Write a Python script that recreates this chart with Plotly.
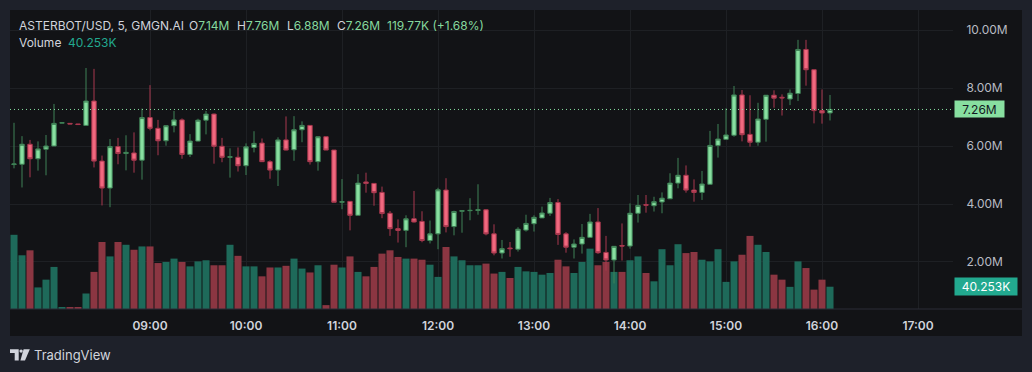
import plotly.graph_objects as go
import pandas as pd

# ---------------- data (prices in millions, volume in thousands) ----------------
start_time = "2025-10-20 07:35"
interval = "5min"

opens = [5.36, 5.37, 6.06, 5.56, 5.89, 6.00, 6.79, 6.78, 6.76, 6.71,
         7.55, 5.48, 4.55, 5.98, 5.74, 5.76, 5.51, 6.98, 6.61, 6.18,
         6.70, 6.90, 5.71, 6.17, 6.89, 7.10, 5.99, 5.61, 5.61, 5.32,
         5.95, 6.10, 5.46, 5.17, 6.21, 5.87, 6.56, 6.71, 5.46, 6.32,
         5.86, 4.06, 4.09, 3.61, 4.76, 4.71, 4.40, 3.68, 3.15, 3.09,
         3.49, 3.40, 2.74, 2.97, 4.48, 3.22, 3.75, 3.77, 3.78, 3.80,
         2.97, 2.31, 2.48, 2.44, 3.10, 3.32, 3.52, 3.68, 4.05, 2.97,
         2.51, 2.62, 2.85, 3.38, 2.33, 2.07, 2.57, 2.55, 3.68, 3.98,
         3.94, 4.07, 4.18, 4.72, 4.99, 4.48, 4.40, 4.68, 6.02, 6.23,
         6.37, 7.76, 6.40, 6.13, 6.92, 7.75, 7.68, 7.62, 7.81, 9.33,
         8.63, 7.22, 7.14]
highs = [6.80, 6.34, 6.21, 6.16, 6.38, 7.45, 6.80, 6.78, 6.76, 8.69,
         8.66, 5.67, 6.24, 6.28, 6.37, 6.47, 7.29, 8.10, 6.90, 6.70,
         7.21, 6.95, 6.41, 6.94, 7.21, 7.12, 6.28, 5.92, 5.95, 6.09,
         6.51, 6.26, 5.51, 6.30, 7.02, 7.03, 6.85, 6.72, 6.32, 6.32,
         5.86, 4.86, 4.10, 5.03, 5.08, 4.71, 4.60, 3.76, 3.47, 3.61,
         4.45, 3.75, 3.43, 4.56, 4.89, 3.77, 3.78, 4.20, 4.68, 3.82,
         3.30, 2.76, 2.69, 3.20, 3.63, 3.61, 3.91, 4.21, 4.17, 3.03,
         2.78, 3.31, 3.66, 3.86, 2.90, 2.55, 3.33, 4.02, 4.31, 4.31,
         4.25, 4.40, 5.06, 5.59, 5.33, 4.85, 5.14, 6.52, 6.76, 7.30,
         8.07, 7.93, 7.75, 7.49, 7.76, 7.92, 7.78, 7.95, 9.66, 9.66,
         8.64, 7.95, 7.76]
lows = [5.23, 4.57, 4.92, 5.15, 4.99, 6.00, 6.79, 6.76, 6.74, 6.71,
        5.26, 3.95, 3.89, 5.37, 5.16, 5.08, 4.84, 6.54, 5.68, 6.01,
        6.47, 5.56, 5.62, 6.16, 6.40, 5.39, 5.44, 4.91, 5.12, 5.00,
        5.78, 5.46, 4.87, 4.62, 5.85, 5.49, 6.13, 5.36, 5.15, 5.86,
        4.06, 3.82, 3.09, 3.61, 4.39, 3.94, 3.51, 2.90, 2.67, 2.51,
        3.36, 2.68, 2.64, 2.44, 3.02, 2.92, 3.01, 3.44, 3.63, 2.92,
        2.23, 2.12, 2.18, 2.36, 3.05, 3.05, 3.52, 3.59, 2.59, 2.32,
        2.12, 2.29, 2.84, 2.28, 1.70, 1.26, 2.05, 2.46, 3.36, 3.70,
        3.74, 3.68, 4.17, 4.54, 4.39, 4.08, 4.14, 4.66, 5.60, 6.21,
        6.32, 6.16, 5.98, 6.01, 6.15, 7.32, 7.05, 7.41, 7.55, 8.08,
        6.78, 6.77, 6.88]
closes = [5.38, 6.06, 5.56, 5.90, 6.00, 6.78, 6.80, 6.76, 6.74, 7.55,
          5.48, 4.55, 5.98, 5.74, 5.78, 5.51, 6.98, 6.61, 6.18, 6.70,
          6.90, 5.71, 6.17, 6.89, 7.10, 5.99, 5.61, 5.63, 5.32, 5.97,
          6.09, 5.46, 5.17, 6.21, 5.86, 6.56, 6.71, 5.46, 6.32, 5.86,
          4.06, 4.08, 3.61, 4.72, 4.71, 4.39, 3.67, 3.15, 3.09, 3.49,
          3.38, 2.74, 2.97, 4.49, 3.22, 3.74, 3.77, 3.78, 3.80, 2.97,
          2.31, 2.46, 2.46, 3.13, 3.33, 3.54, 3.69, 4.05, 2.95, 2.51,
          2.62, 2.85, 3.38, 2.32, 2.07, 2.54, 2.55, 3.68, 3.95, 3.96,
          4.08, 4.20, 4.72, 4.99, 4.48, 4.40, 4.69, 6.02, 6.24, 6.38,
          7.76, 6.39, 6.13, 6.93, 7.75, 7.65, 7.66, 7.82, 9.33, 8.63,
          7.22, 7.14, 7.26]
volumes = [134, 97, 106, 39, 53, 76, 3, 3, 3, 28,
           67, 121, 95, 121, 116, 107, 113, 113, 83, 85,
           91, 85, 77, 86, 88, 79, 79, 116, 96, 77,
           77, 59, 75, 75, 78, 91, 73, 66, 79, 7,
           80, 75, 95, 67, 59, 76, 100, 106, 94, 91,
           91, 89, 80, 58, 112, 95, 88, 79, 79, 82,
           64, 67, 56, 76, 68, 67, 62, 65, 89, 77,
           65, 85, 109, 79, 85, 67, 67, 88, 95, 65,
           50, 108, 79, 117, 101, 103, 89, 86, 108, 49,
           86, 98, 132, 116, 103, 62, 53, 40, 86, 74,
           35, 53, 40.253]

price_ticks = [2, 4, 6, 8, 10]
price_tick_labels = ["2.00M", "4.00M", "6.00M", "8.00M", "10.00M"]
time_tick_labels = ["09:00", "10:00", "11:00", "12:00", "13:00", "14:00", "15:00", "16:00", "17:00"]
chart_date = "2025-10-20"

header_title = "ASTERBOT/USD, 5, GMGN.AI"
header_ohlc = [("O", "7.14M"), ("H", "7.76M"), ("L", "6.88M"), ("C", "7.26M")]
header_change = "119.77K (+1.68%)"
last_price = 7.26
last_price_label = "7.26M"
last_volume_label = "40.253K"

# ---------------- styling ----------------
OUTER_BG = "#1e212a"
PANEL_BG = "#121316"
GRID = "#1e2024"
UP = "#88dfa0"
DOWN = "#f1687f"
UP_LINE = "#3f8256"
DOWN_LINE = "#a8384e"
VOL_UP = "#1e6a5a"
VOL_DOWN = "#8b3642"
TEXT = "#d1d4dc"
AXIS_TEXT = "#b8bbc3"
GREEN_TXT = "#86d99e"
TEAL = "#22a98f"
FONT = "Inter, Roboto, Liberation Sans, sans-serif"

W, H = 1032, 372
PL, PR, PT, PB = 10, 953, 10, 309


def px_x(px):
    return (px - PL) / (PR - PL)


def px_y(py):
    return (PB - py) / (PB - PT)


times = pd.date_range(start_time, periods=len(opens), freq=interval)
vol_colors = [VOL_UP if c >= o else VOL_DOWN for o, c in zip(opens, closes)]

fig = go.Figure()
fig.add_trace(go.Bar(
    x=times, y=volumes, marker=dict(color=vol_colors, line=dict(width=0)),
    yaxis="y", hoverinfo="skip", showlegend=False,
))
fig.add_trace(go.Candlestick(
    x=times, open=opens, high=highs, low=lows, close=closes,
    increasing=dict(fillcolor=UP, line=dict(color=UP_LINE, width=1)),
    decreasing=dict(fillcolor=DOWN, line=dict(color=DOWN_LINE, width=1)),
    whiskerwidth=0, yaxis="y2", hoverinfo="skip", showlegend=False,
))

tick_vals = [pd.Timestamp(f"{chart_date} {t}") for t in time_tick_labels]

fig.update_layout(
    width=W, height=H,
    margin=dict(l=PL, r=W - PR, t=PT, b=H - PB, pad=0),
    paper_bgcolor=OUTER_BG, plot_bgcolor=PANEL_BG,
    font=dict(family=FONT, color=TEXT, size=12),
    bargap=0.12, boxgap=0.22,
    showlegend=False,
    xaxis=dict(
        type="date",
        range=[pd.Timestamp(f"{chart_date} 07:32:30"), pd.Timestamp(f"{chart_date} 17:21:52.5")],
        tickvals=tick_vals, ticktext=time_tick_labels,
        showgrid=True, gridcolor=GRID, gridwidth=1,
        zeroline=False, showline=False,
        ticks="outside", ticklen=6, tickcolor="rgba(0,0,0,0)",
        tickfont=dict(size=12, color=TEXT, family=FONT, weight=600),
        rangeslider=dict(visible=False), fixedrange=True,
    ),
    yaxis=dict(range=[0, 540], visible=False, fixedrange=True),
    yaxis2=dict(
        overlaying="y", side="right", anchor="x",
        range=[0.379, 10.69],
        tickvals=price_ticks, ticktext=price_tick_labels,
        showgrid=True, gridcolor=GRID, gridwidth=1, zeroline=False,
        ticks="outside", ticklen=10, tickcolor="rgba(0,0,0,0)",
        tickfont=dict(size=12, color=AXIS_TEXT, family=FONT),
        fixedrange=True,
    ),
)

shapes = [
    # chart panel
    dict(type="rect", xref="paper", yref="paper", x0=px_x(10), x1=px_x(1022),
         y0=px_y(336), y1=px_y(10), fillcolor=PANEL_BG, line=dict(width=0), layer="below"),
    # time-scale separator
    dict(type="line", xref="paper", yref="paper", x0=px_x(10), x1=px_x(1022),
         y0=px_y(309), y1=px_y(309), line=dict(color="#2a2d36", width=1)),
    # last price dotted line
    dict(type="line", xref="paper", yref="y2", x0=0, x1=1, y0=last_price, y1=last_price,
         line=dict(color=UP, width=1, dash="1px,3px")),
]

# TradingView logo
def poly(points):
    return "M" + " L".join(f"{px_x(a):.5f},{px_y(b):.5f}" for a, b in points) + " Z"

shapes.append(dict(type="path", xref="paper", yref="paper",
                   path=poly([(10, 349.3), (18.7, 349.3), (18.7, 360.4), (14.7, 360.4),
                              (14.7, 353.0), (10, 353.0)]),
                   fillcolor=TEXT, line=dict(width=0)))
shapes.append(dict(type="circle", xref="paper", yref="paper",
                   x0=px_x(19.4), x1=px_x(22.8), y0=px_y(352.8), y1=px_y(349.4),
                   fillcolor=TEXT, line=dict(width=0)))
shapes.append(dict(type="path", xref="paper", yref="paper",
                   path=poly([(23.6, 349.3), (29.8, 349.3), (25.0, 360.4), (20.4, 360.4)]),
                   fillcolor=TEXT, line=dict(width=0)))
fig.update_layout(shapes=shapes)


def ann(px, py, text, size=12, color=TEXT, **kw):
    d = dict(x=px_x(px), y=px_y(py), xref="paper", yref="paper", text=text,
             showarrow=False, xanchor="left", yanchor="middle",
             font=dict(family=FONT, size=size, color=color), borderpad=0)
    d.update(kw)
    return d


annotations = [ann(18, 26, header_title, size=12)]
ohlc_x = [188, 236, 286, 336]
for (lbl, val), xx in zip(header_ohlc, ohlc_x):
    annotations.append(ann(xx, 26, f"{lbl}<span style='color:{GREEN_TXT}'>{val}</span>", size=12))
annotations.append(ann(385.5, 26, header_change, size=12, color=GREEN_TXT))
annotations.append(ann(18, 42.5, "Volume", size=12))
annotations.append(ann(66.5, 42.5, last_volume_label, size=12, color=TEAL))

# price-scale labels
annotations.append(dict(x=px_x(954), y=last_price, xref="paper", yref="y2",
                        text=last_price_label, showarrow=False, xanchor="left", yanchor="middle",
                        width=49, height=16, bgcolor=UP, borderpad=0, align="center",
                        font=dict(family=FONT, size=12, color="#131722")))
annotations.append(dict(x=px_x(954), y=volumes[-1], xref="paper", yref="y",
                        text=last_volume_label, showarrow=False, xanchor="left", yanchor="middle",
                        width=62, height=17, bgcolor=TEAL, borderpad=0, align="center",
                        font=dict(family=FONT, size=12, color="#ffffff")))
annotations.append(ann(33, 355, "TradingView", size=13, color=TEXT))
fig.update_layout(annotations=annotations)

page_js = ("document.body.style.margin='0';"
           "document.body.style.padding='0';"
           "document.body.style.background='%s';" % OUTER_BG)
fig.write_html("out.html", config=dict(displayModeBar=False), post_script=page_js)
